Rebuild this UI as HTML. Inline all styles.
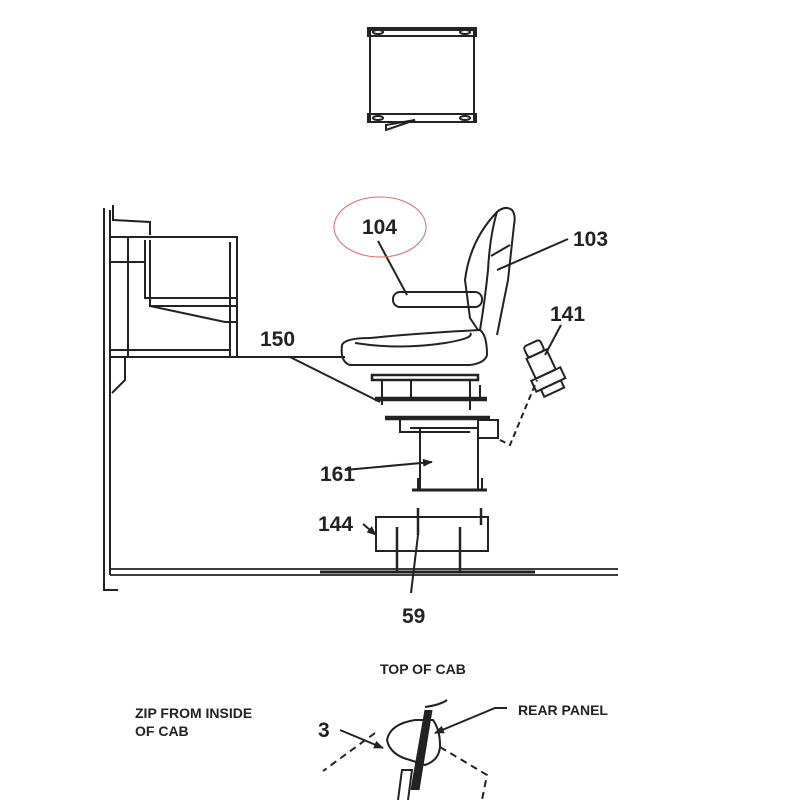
<!DOCTYPE html>
<html><head><meta charset="utf-8"><style>
html,body{margin:0;padding:0;background:#fff;width:800px;height:800px;overflow:hidden}
svg{display:block}
.t{font-family:"Liberation Sans",Arial,sans-serif;font-weight:bold;font-size:21px;fill:#222}
.s{font-family:"Liberation Sans",Arial,sans-serif;font-weight:bold;font-size:14px;fill:#222}
</style></head><body>
<svg width="800" height="800" viewBox="0 0 800 800" xmlns="http://www.w3.org/2000/svg">
<defs><marker id="a" markerWidth="10" markerHeight="8" refX="9" refY="4" orient="auto" markerUnits="userSpaceOnUse"><path d="M0,0 L10,4 L0,8 Z" fill="#222"/></marker></defs>
<g fill="none" stroke="#222" stroke-width="2">
<rect x="370" y="30" width="104" height="92"/>
<rect x="368" y="28" width="108" height="8"/>
<rect x="368" y="114" width="108" height="8"/>
<ellipse cx="378" cy="32" rx="5" ry="2"/><ellipse cx="465" cy="32" rx="5" ry="2"/>
<ellipse cx="378" cy="118" rx="5" ry="2"/><ellipse cx="465" cy="118" rx="5" ry="2"/>
<path d="M386,125 L415,120 L386,130 Z"/>
<path d="M104,208 L104,590 L118,590"/>
<path d="M110,210 L110,575"/>
<path d="M113,205 L113,220 L150,222 L150,235"/>
<path d="M110,237 L237,237 L237,357 M230,242 L230,357"/>
<path d="M128,237 L128,357 M110,262 L145,262"/>
<path d="M145,240 L145,298 L237,298 M150,240 L150,306 L237,306"/>
<path d="M150,306 L225,322 L237,322"/>
<path d="M110,357 L345,357 M125,357 L125,380 L112,393"/>
<path d="M110,350 L230,350"/>
<path d="M110,569 L618,569 M110,575 L618,575" stroke-width="1.8"/>
<path d="M320,572 L535,572" stroke-width="3"/>
<path d="M342,345 Q345,338 370,338 Q420,333 480,330 Q487,335 487,355 Q485,363 470,365 L350,365 Q340,362 342,345 Z"/>
<path d="M355,343 Q400,350 445,343 Q475,338 470,333"/>
<path d="M480,330 Q485,300 488,270 Q490,235 497,212 Q505,205 512,210 Q516,215 514,225 L508,280 L497,335"/>
<path d="M497,212 Q470,240 465,280 L470,318 L478,330"/>
<path d="M491,256 L510,245"/>
<rect x="393" y="292" width="89" height="15" rx="7"/>
<path d="M372,375 L478,375 L478,380 L372,380 Z" stroke-width="2.5"/>
<path d="M375,398 L487,398 M375,400 L487,400" stroke-width="2.5"/>
<path d="M382,380 L382,405 M411,380 L411,400 M470,380 L470,410 M480,385 L480,398"/>
<path d="M385,417 L490,417 M385,419 L490,419" stroke-width="2.5"/>
<path d="M400,418 L400,432 L470,432 M410,428 L470,428"/>
<rect x="478" y="420" width="20" height="18"/>
<rect x="420" y="428" width="58" height="62"/>
<path d="M412,490 L487,490" stroke-width="3"/>
<path d="M418,478 L418,490 M482,478 L482,490"/>
<path d="M500,440 L510,445 L537,380" stroke-dasharray="6,4"/>
<g transform="rotate(-25 545 370)">
<rect x="535" y="340" width="18" height="12" rx="3"/>
<rect x="533" y="352" width="22" height="22"/>
<rect x="528" y="374" width="32" height="12"/>
<rect x="533" y="386" width="22" height="8"/>
</g>
<rect x="376" y="517" width="112" height="34"/>
<path d="M397,527 L397,572 M460,527 L460,572 M418,508 L418,535 M481,508 L481,525" stroke-width="2.5"/>
<path d="M345,470 L432,462" marker-end="url(#a)"/>
<path d="M363,524 L376,535" marker-end="url(#a)"/>
<path d="M411,593 L418,535"/>
<path d="M290,357 L380,402"/>
<path d="M378,241 L407,295"/>
<path d="M568,239 L497,270"/>
<path d="M561,325 L545,355"/>
<path d="M410,760 Q390,755 387,740 Q390,724 415,720 L433,720 Q440,730 440,745 Q440,760 425,765 Z"/>
<path d="M426,710 L412,790 M431,710 L418,790" stroke-width="3"/>
<path d="M425,707 Q440,705 447,700"/>
<path d="M398,800 L402,770 L412,770 L408,800"/>
<path d="M375,733 L323,771 M440,747 L487,775 L482,800" stroke-dasharray="7,5"/>
<path d="M340,730 L383,748" marker-end="url(#a)"/>
<path d="M507,708 L495,708 L435,733" marker-end="url(#a)"/>
</g>
<path d="M426,710 L431,710 L418,790 L412,790 Z" fill="#222"/>
<ellipse cx="380" cy="227" rx="46" ry="30" fill="none" stroke="#d66" stroke-width="1"/>
<text class="t" x="362" y="234">104</text>
<text class="t" x="573" y="246">103</text>
<text class="t" x="550" y="321">141</text>
<text class="t" x="260" y="346">150</text>
<text class="t" x="320" y="481">161</text>
<text class="t" x="318" y="531">144</text>
<text class="t" x="402" y="623">59</text>
<text class="t" x="318" y="737">3</text>
<text class="s" x="380" y="674">TOP OF CAB</text>
<text class="s" x="518" y="715">REAR PANEL</text>
<text class="s" x="135" y="718">ZIP FROM INSIDE</text>
<text class="s" x="135" y="736">OF CAB</text>
</svg>
</body></html>
